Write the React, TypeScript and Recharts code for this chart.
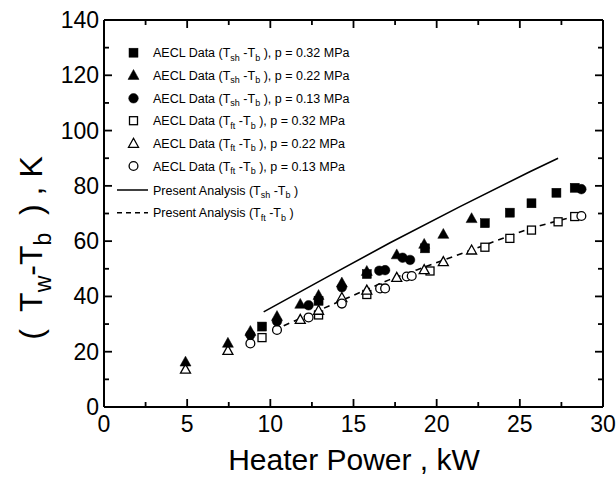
import React from 'react';
import { ScatterChart, Scatter, XAxis, YAxis } from 'recharts';

const FONT = '"Liberation Sans", Arial, Helvetica, sans-serif';

const xTicks = [0, 2.5, 5, 7.5, 10, 12.5, 15, 17.5, 20, 22.5, 25, 27.5, 30];
const yTicks = [0, 10, 20, 30, 40, 50, 60, 70, 80, 90, 100, 110, 120, 130, 140];
const pressures = ['0.32', '0.22', '0.13'];

// p = 0.32 MPa (squares)
const powerSh32 = [9.5, 12.9, 15.8, 19.3, 22.9, 24.4, 25.7, 27.2, 28.3];
const tsh32 = [29.1, 38.4, 48.1, 57.4, 66.5, 70.3, 73.7, 77.5, 79.3];
const powerFt32 = [9.5, 12.9, 15.8, 19.6, 22.9, 24.4, 25.7, 27.3, 28.3];
const tft32 = [25.1, 33.3, 40.7, 49.2, 57.8, 61.0, 64.0, 67.0, 68.9];

// p = 0.22 MPa (triangles)
const powerSh22 = [4.9, 7.45, 8.8, 10.4, 11.8, 12.9, 14.3, 15.8, 17.6, 19.25, 20.4, 22.1];
const tsh22 = [16.4, 23.2, 27.5, 32.9, 37.3, 40.5, 45.0, 49.2, 55.2, 59.0, 62.6, 68.3];
const powerFt22 = [4.9, 7.45, 11.8, 12.9, 14.3, 15.8, 17.6, 19.25, 20.4, 22.1];
const tft22 = [13.7, 20.5, 31.7, 35.0, 39.6, 42.3, 46.9, 49.7, 52.6, 56.8];

// p = 0.13 MPa (circles)
const powerSh13 = [8.8, 10.4, 12.3, 14.3, 16.55, 16.9, 17.95, 18.4, 28.7];
const tsh13 = [26.1, 31.0, 36.8, 43.3, 49.3, 49.5, 54.0, 53.2, 78.8];
const powerFt13 = [8.8, 10.4, 12.3, 14.3, 16.6, 16.9, 18.2, 18.5, 28.7];
const tft13 = [23.0, 27.9, 32.4, 37.4, 42.9, 42.9, 47.2, 47.4, 69.1];

// present analysis curves
const shLinePower = [9.6, 13.4, 17.2, 21.4, 25.6, 27.3];
const shLine = [34.4, 47.0, 59.4, 72.5, 85.1, 90.0];
const ftLinePower = [10.2, 14.0, 17.1, 18.8, 22.0, 25.6, 28.3];
const ftLine = [27.8, 37.8, 45.9, 49.6, 56.6, 64.6, 69.0];

const pts = (xs: number[], ys: number[]) => xs.map((x, i) => ({ x, y: ys[i] }));

type Kind = 'square' | 'triangle' | 'circle';

const Marker = ({ cx, cy, kind, filled }: { cx: number; cy: number; kind: Kind; filled: boolean }) => {
  const fill = filled ? '#000' : '#fff';
  const stroke = '#000';
  const sw = filled ? 0.5 : 1.3;
  if (kind === 'square') {
    const s = filled ? 4.5 : 4;
    return <rect x={cx - s} y={cy - s} width={s * 2} height={s * 2} fill={fill} stroke={stroke} strokeWidth={sw} />;
  }
  if (kind === 'triangle') {
    const s = filled ? 5.5 : 5;
    return (
      <polygon
        points={`${cx},${cy - s} ${cx + s},${cy + s * 0.8} ${cx - s},${cy + s * 0.8}`}
        fill={fill}
        stroke={stroke}
        strokeWidth={sw}
      />
    );
  }
  return <circle cx={cx} cy={cy} r={filled ? 4.8 : 4.4} fill={fill} stroke={stroke} strokeWidth={sw} />;
};

const shapeOf = (kind: Kind, filled: boolean) => (p: any) => (
  <Marker cx={p.cx} cy={p.cy} kind={kind} filled={filled} />
);

const noShape = () => <g />;

// tick marks point into the plot; minor ones are shorter
const tickLen = (major: boolean) => (major ? 8 : 5);

const BottomTick = (p: any) => {
  const major = p.payload.value % 5 === 0;
  const x = Number(p.x);
  const y = Number(p.y);
  return (
    <g>
      <path d={`M${x},${y}V${y - tickLen(major)}`} stroke="#000" strokeWidth={1.8} fill="none" />
      {major && (
        <text x={x} y={y + 25} textAnchor="middle" fontSize={23} fontFamily={FONT} fill="#000" stroke="none">
          {p.payload.value}
        </text>
      )}
    </g>
  );
};

const TopTick = (p: any) => {
  const major = p.payload.value % 5 === 0;
  const x = Number(p.x);
  const y = Number(p.y);
  return <path d={`M${x},${y}V${y + tickLen(major)}`} stroke="#000" strokeWidth={1.8} fill="none" />;
};

const LeftTick = (p: any) => {
  const major = p.payload.value % 20 === 0;
  const x = Number(p.x);
  const y = Number(p.y);
  return (
    <g>
      <path d={`M${x},${y}H${x + tickLen(major)}`} stroke="#000" strokeWidth={1.8} fill="none" />
      {major && (
        <text x={x - 5} y={y + 8} textAnchor="end" fontSize={23} fontFamily={FONT} fill="#000" stroke="none">
          {p.payload.value}
        </text>
      )}
    </g>
  );
};

const RightTick = (p: any) => {
  const major = p.payload.value % 20 === 0;
  const x = Number(p.x);
  const y = Number(p.y);
  return <path d={`M${x},${y}H${x - tickLen(major)}`} stroke="#000" strokeWidth={1.8} fill="none" />;
};

const Sub = ({ children, size }: { children: React.ReactNode; size: number }) => (
  <tspan dy={size * 0.28} fontSize={size * 0.72}>{children}</tspan>
);

const legendKinds: Kind[] = ['square', 'triangle', 'circle'];

const Overlay = () => {
  const rowY = [52.7, 75, 98.3, 120.7, 143.3, 166, 190, 212.7];
  const fs = 12.5;
  const rows = [
    ...pressures.map((p, i) => ({ kind: legendKinds[i], filled: true, sub: 'sh', p })),
    ...pressures.map((p, i) => ({ kind: legendKinds[i], filled: false, sub: 'ft', p })),
  ];
  return (
    <svg width={616} height={477} style={{ position: 'absolute', left: 0, top: 0, pointerEvents: 'none' }}>
      <g fontFamily={FONT} fill="#000">
        {rows.map((r, i) => (
          <g key={i}>
            <Marker cx={133.5} cy={rowY[i]} kind={r.kind} filled={r.filled} />
            <text x={153} y={rowY[i] + 4.5} fontSize={fs}>
              AECL Data (T<Sub size={fs}>{r.sub}</Sub>
              <tspan dy={-fs * 0.28}> -T</tspan>
              <Sub size={fs}>b</Sub>
              <tspan dy={-fs * 0.28}> ), p = {r.p} MPa</tspan>
            </text>
          </g>
        ))}
        <line x1={117} x2={148} y1={rowY[6]} y2={rowY[6]} stroke="#000" strokeWidth={1.5} />
        <line x1={117} x2={148} y1={rowY[7]} y2={rowY[7]} stroke="#000" strokeWidth={1.5} strokeDasharray="5 4" />
        {['sh', 'ft'].map((s, i) => (
          <text key={s} x={153} y={rowY[6 + i] + 4.5} fontSize={fs}>
            Present Analysis (T<Sub size={fs}>{s}</Sub>
            <tspan dy={-fs * 0.28}> -T</tspan>
            <Sub size={fs}>b</Sub>
            <tspan dy={-fs * 0.28}> )</tspan>
          </text>
        ))}
        <text x={354} y={470} textAnchor="middle" fontSize={30}>Heater Power , kW</text>
        <g transform="translate(42, 248) rotate(-90)">
          <text x={0} y={0} textAnchor="middle" fontSize={32} style={{ whiteSpace: 'pre' }}>
            {'(  T'}<Sub size={32}>w</Sub>
            <tspan dy={-32 * 0.28}>-T</tspan>
            <Sub size={32}>b</Sub>
            <tspan dy={-32 * 0.28}>{'  ) , K'}</tspan>
          </text>
        </g>
      </g>
    </svg>
  );
};

export default function App() {
  const axisLine = { stroke: '#000', strokeWidth: 2 };
  return (
    <div style={{ position: 'absolute', left: 0, top: 0, width: 616, height: 477, background: '#fff' }}>
      <ScatterChart width={616} height={477} margin={{ top: 19, right: 12, bottom: 30, left: 44 }}>
        <XAxis
          type="number"
          dataKey="x"
          domain={[0, 30]}
          ticks={xTicks}
          interval={0}
          height={40}
          tickSize={0}
          tickMargin={0}
          tickLine={false}
          axisLine={axisLine}
          tick={BottomTick}
          allowDataOverflow
        />
        <XAxis
          xAxisId="top"
          orientation="top"
          type="number"
          dataKey="x"
          domain={[0, 30]}
          ticks={xTicks}
          interval={0}
          height={1}
          tickSize={0}
          tickMargin={0}
          tickLine={false}
          axisLine={axisLine}
          tick={TopTick}
          allowDataOverflow
        />
        <YAxis
          type="number"
          dataKey="y"
          domain={[0, 140]}
          ticks={yTicks}
          interval={0}
          width={60}
          tickSize={0}
          tickMargin={0}
          tickLine={false}
          axisLine={axisLine}
          tick={LeftTick}
          allowDataOverflow
        />
        <YAxis
          yAxisId="right"
          orientation="right"
          type="number"
          dataKey="y"
          domain={[0, 140]}
          ticks={yTicks}
          interval={0}
          width={1}
          tickSize={0}
          tickMargin={0}
          tickLine={false}
          axisLine={axisLine}
          tick={RightTick}
          allowDataOverflow
        />
        <Scatter data={pts(shLinePower, shLine)} line={{ stroke: '#000', strokeWidth: 1.6 }} shape={noShape} isAnimationActive={false} />
        <Scatter data={pts(ftLinePower, ftLine)} line={{ stroke: '#000', strokeWidth: 1.6, strokeDasharray: '6 5' }} shape={noShape} isAnimationActive={false} />
        {/* keeps the mirrored frame axes bound to data so their ticks are computed */}
        <Scatter xAxisId="top" yAxisId="right" data={pts(shLinePower, shLine)} shape={noShape} isAnimationActive={false} />
        <Scatter data={pts(powerFt32, tft32)} shape={shapeOf('square', false)} isAnimationActive={false} />
        <Scatter data={pts(powerFt22, tft22)} shape={shapeOf('triangle', false)} isAnimationActive={false} />
        <Scatter data={pts(powerFt13, tft13)} shape={shapeOf('circle', false)} isAnimationActive={false} />
        <Scatter data={pts(powerSh32, tsh32)} shape={shapeOf('square', true)} isAnimationActive={false} />
        <Scatter data={pts(powerSh13, tsh13)} shape={shapeOf('circle', true)} isAnimationActive={false} />
        <Scatter data={pts(powerSh22, tsh22)} shape={shapeOf('triangle', true)} isAnimationActive={false} />
      </ScatterChart>
      <Overlay />
    </div>
  );
}
